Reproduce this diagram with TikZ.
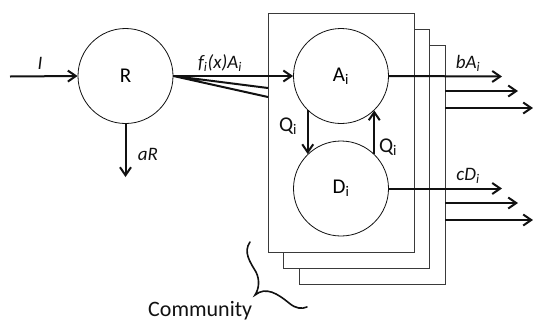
\documentclass[tikz,border=0pt]{standalone}
\usepackage{fontspec,xcolor,tikz}
\setmainfont{Carlito}
\usetikzlibrary{arrows.meta}
\definecolor{ink}{HTML}{111111}
\definecolor{rand}{HTML}{3A3A3A}
\newcommand{\gross}{\fontsize{21}{24}\selectfont}
\newcommand{\mittel}{\fontsize{19}{22}\selectfont}
\tikzset{pfeil/.style={ink,line width=2pt,-{Straight Barb[length=8pt,width=11pt]}},
  fluss/.style={ink,line width=2pt},
  kreis/.style={circle,draw=ink,line width=0.8pt,fill=white,minimum size=95pt,inner sep=0,font=\gross},
  karte/.style={draw=rand,line width=0.8pt,fill=white,minimum width=146pt,minimum height=239pt,inner sep=0},
  beschr/.style={inner sep=0,text=ink,font=\mittel\itshape}}

\begin{document}
\begin{tikzpicture}[x=1pt,y=-1pt]
\useasboundingbox (0,0) rectangle (533,322);
% drei Karten der Community
\node[karte] (box3) at (372.5,165) {};
\node[karte] (box2) at (356.5,148.5) {};
\node[karte] (box1) at (341,132.5) {};
\node[kreis] (R) at (125.5,76) {\raisebox{-6pt}{R}};
\node[kreis] (A) at (341,76) {\raisebox{-7pt}{A\textsubscript{i}}};
\node[kreis] (D) at (341,188.5) {\raisebox{-7pt}{D\textsubscript{i}}};
\coordinate (Iein) at (10,76.5);
\coordinate (aRaus) at (125.5,177);
\coordinate (f2) at (268,88);
\coordinate (f3) at (268,97);
\coordinate (bA1) at (502,76.5);
\coordinate (bA2s) at (445,91);
\coordinate (bA2) at (518,91);
\coordinate (bA3s) at (445,108);
\coordinate (bA3) at (533,108);
\coordinate (cD1) at (502,188.5);
\coordinate (cD2s) at (445,203);
\coordinate (cD2) at (518,203);
\coordinate (cD3s) at (445,220);
\coordinate (cD3) at (533,220);
% Zufluss und Verluste
\draw[pfeil] (Iein) -- (R.west);
\node[beschr] (Ilbl) at (40,63) {I};
\draw[pfeil] (R.south) -- (aRaus);
\node[beschr] (aRlbl) at (148,154) {aR};
\draw[pfeil] (R.east) -- (A.west);
\draw[fluss] (R.east) -- (f2) (R.east) -- (f3);
\node[beschr] (flbl) at (220,63) {f\textsubscript{i}(x)A\textsubscript{i}};
\draw[pfeil] (A.east) -- (bA1);
\draw[pfeil] (bA2s) -- (bA2);
\draw[pfeil] (bA3s) -- (bA3);
\node[beschr] (bAlbl) at (468,63) {bA\textsubscript{i}};
\draw[pfeil] (D.east) -- (cD1);
\draw[pfeil] (cD2s) -- (cD2);
\draw[pfeil] (cD3s) -- (cD3);
\node[beschr] (cDlbl) at (468,176) {cD\textsubscript{i}};
% Wechsel A <-> D
\draw[pfeil] (A.226) -- (D.134);
\node[inner sep=0,text=ink,font=\gross] (Q1) at (288,126) {Q\textsubscript{i}};
\draw[pfeil] (D.46) -- (A.-46);
\node[inner sep=0,text=ink,font=\gross] (Q2) at (388,147) {Q\textsubscript{i}};
% Klammer
\draw[ink,line width=1.6pt,line cap=round] (250,242) .. controls (243,252) and (250,262) .. (256,272)
  .. controls (260,280) and (259,289) .. (255,295)
  .. controls (266,286) and (278,294) .. (289,303)
  .. controls (296,309) and (302,309) .. (307,307);
\node[anchor=base west,inner sep=0,text=ink,font=\fontsize{22}{26}\selectfont] (comm) at (148,316) {Community};
\end{tikzpicture}
\end{document}
